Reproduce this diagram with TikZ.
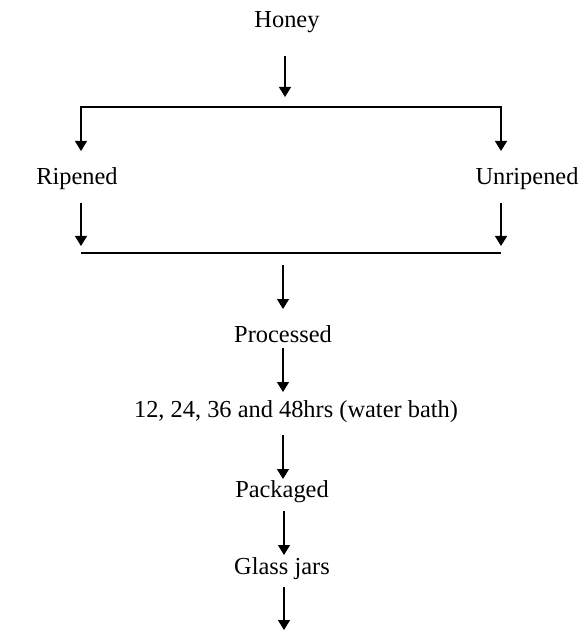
\documentclass[tikz,border=0pt]{standalone}
\usepackage{fontspec}
\setmainfont{Liberation Serif}
\usetikzlibrary{arrows.meta}
\begin{document}
\begin{tikzpicture}[x=0.5pt,y=-0.5pt,
  arr/.style={-{Triangle[width=6pt,length=5pt]}, line width=0.65pt},
  ln/.style={line width=0.65pt},
  lbl/.style={font=\fontsize{12.2}{14}\selectfont, inner sep=0pt}]
\useasboundingbox[fill=white] (0,0) rectangle (580,630);
% labels
\node[lbl] (honey) at (287,22) {Honey};
\node[lbl] (rip) at (77,179) {Ripened};
\node[lbl] (unrip) at (527,179) {Unripened};
\node[lbl] (proc) at (283,334) {Processed};
\node[lbl] (bath) at (296,412) {12, 24, 36 and 48hrs (water bath)};
\node[lbl] (pack) at (282,492) {Packaged};
\node[lbl] (jars) at (282,569) {Glass jars};
% coordinates
\coordinate (h1) at (285,56);
\coordinate (h2) at (285,97);
\coordinate (bl) at (81,107);
\coordinate (br) at (501,107);
\coordinate (blt) at (81,151);
\coordinate (brt) at (501,151);
\coordinate (rl1) at (81,203);
\coordinate (rl2) at (81,246);
\coordinate (rr1) at (501,203);
\coordinate (rr2) at (501,246);
\coordinate (jl) at (81,253);
\coordinate (jr) at (501,253);
\coordinate (m1) at (283,265);
\coordinate (m2) at (283,309);
\coordinate (p1) at (283,348);
\coordinate (p2) at (283,392);
\coordinate (b1) at (283,435);
\coordinate (b2) at (283,479);
\coordinate (k1) at (284,511);
\coordinate (k2) at (284,555);
\coordinate (g1) at (284,587);
\coordinate (g2) at (284,630);
% connectors
\draw[arr] (h1) -- (h2);
\draw[arr] (br) -- (bl) -- (blt);
\draw[arr] (bl) -- (br) -- (brt);
\draw[arr] (rl1) -- (rl2);
\draw[arr] (rr1) -- (rr2);
\draw[ln] (jl) -- (jr);
\draw[arr] (m1) -- (m2);
\draw[arr] (p1) -- (p2);
\draw[arr] (b1) -- (b2);
\draw[arr] (k1) -- (k2);
\draw[arr] (g1) -- (g2);
\end{tikzpicture}
\end{document}
